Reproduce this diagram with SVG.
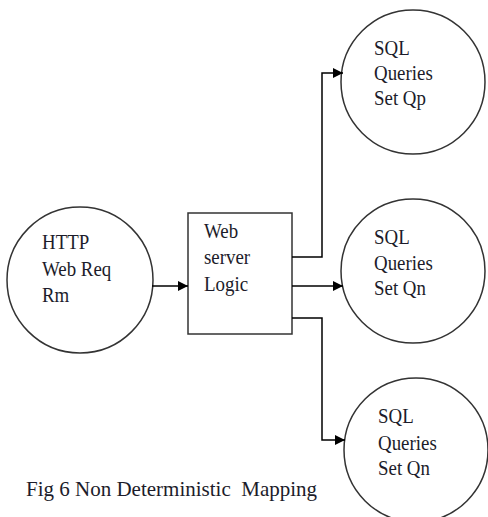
<svg xmlns="http://www.w3.org/2000/svg" width="488" height="517" viewBox="0 0 488 517">
<defs>
<marker id="ah" viewBox="0 0 10 10" refX="10" refY="5" markerWidth="10" markerHeight="10" markerUnits="userSpaceOnUse" orient="auto">
<path d="M0,0 L10,5 L0,10 Z" fill="#000"/>
</marker>
<style>
.shape{fill:#fff;stroke:#333;stroke-width:1.5}
.t{font-family:"Liberation Serif","Times New Roman",serif;font-size:21px;fill:#1c1c2a}
.c{fill:none;stroke:#000;stroke-width:1.5;marker-end:url(#ah)}
</style>
</defs>
<rect width="488" height="517" fill="#fff"/>
<g id="http">
<circle class="shape" cx="80" cy="280" r="73"/>
<g transform="translate(42 0) scale(0.9 1)">
<text class="t" x="0" y="249">HTTP</text>
<text class="t" x="0" y="276">Web Req</text>
<text class="t" x="0" y="302">Rm</text>
</g>
</g>
<g id="web">
<rect class="shape" x="188" y="213" width="104" height="121"/>
<g transform="translate(204 0) scale(0.9 1)">
<text class="t" x="0" y="238">Web</text>
<text class="t" x="0" y="264">server</text>
<text class="t" x="0" y="291">Logic</text>
</g>
</g>
<g id="qp">
<circle class="shape" cx="413" cy="82" r="72"/>
<g transform="translate(374 0) scale(0.9 1)">
<text class="t" x="0" y="55">SQL</text>
<text class="t" x="0" y="80">Queries</text>
<text class="t" x="0" y="105">Set Qp</text>
</g>
</g>
<g id="qn1">
<circle class="shape" cx="413" cy="271" r="72"/>
<g transform="translate(374 0) scale(0.9 1)">
<text class="t" x="0" y="244">SQL</text>
<text class="t" x="0" y="270">Queries</text>
<text class="t" x="0" y="295">Set Qn</text>
</g>
</g>
<g id="qn2">
<circle class="shape" cx="416" cy="450" r="72"/>
<g transform="translate(378 0) scale(0.9 1)">
<text class="t" x="0" y="423">SQL</text>
<text class="t" x="0" y="450">Queries</text>
<text class="t" x="0" y="475">Set Qn</text>
</g>
</g>
<g id="connectors">
<path class="c" d="M152,286 H188"/>
<path class="c" d="M292,257 H322 V73 H343"/>
<path class="c" d="M292,286 H343"/>
<path class="c" d="M292,318 H322 V440 H345"/>
</g>
<text class="t" x="26" y="496" xml:space="preserve" style="font-size:21px">Fig 6 Non Deterministic  Mapping</text>
</svg>
